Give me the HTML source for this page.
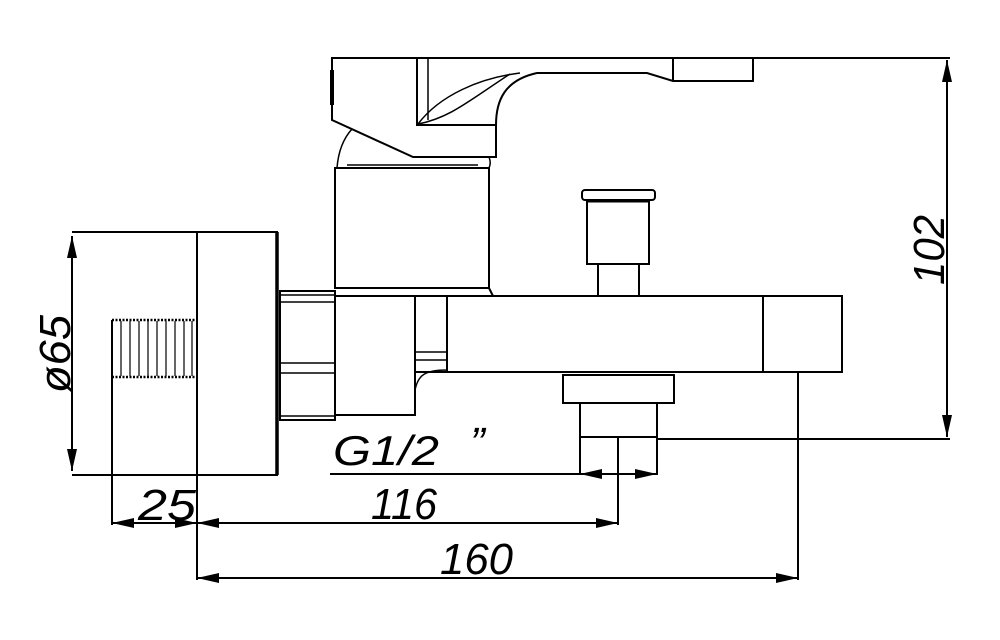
<!DOCTYPE html>
<html><head><meta charset="utf-8"><style>
html,body{margin:0;padding:0;background:#fff;}
svg{display:block;}
text{font-family:"Liberation Sans",sans-serif;font-style:italic;fill:#000;}
</style></head><body>
<svg width="1000" height="640" viewBox="0 0 1000 640" xmlns="http://www.w3.org/2000/svg">
<defs>
<marker id="a" viewBox="0 0 22 10" refX="22" refY="5" markerWidth="22" markerHeight="10" markerUnits="userSpaceOnUse" orient="auto-start-reverse">
<path d="M0,0 L22,5 L0,10 Z" fill="#000"/></marker>
</defs>
<g fill="none" stroke="#000" stroke-width="2">
<path d="M332,58 L753,58 L753,81 L673,81 L647,73 L537,73 C505,80 496,100 496,125 L496,157 L413,157 L332,120 Z"/>
<path d="M417,58 L417,125 L496,125"/>
<path d="M428,58 L428,120" stroke-width="1.5"/>
<path d="M673,58 L673,81"/>
<path d="M418,124 C440,95 480,78 520,73" stroke-width="1.5"/>
<path d="M418,124 C450,118 470,100 510,74" stroke-width="1.5"/>
<path d="M332,70 L332,105" stroke-width="4"/>
<path d="M352,129 C342,140 338,155 337,168" stroke-width="1.5"/>
<path d="M489,157 C491,162 490,166 489,168" stroke-width="1.5"/>
<rect x="335" y="168" width="154" height="120"/>
<path d="M347,165 L478,165" stroke-width="1.5"/>
<path d="M335,288 L489,288 L493,296"/>
<rect x="582" y="190" width="73" height="10" rx="3"/>
<path d="M587,201 L649,201" stroke-width="3"/>
<rect x="587" y="200" width="62" height="64"/>
<path d="M598,264 L598,296 M639,264 L639,296"/>
<path d="M415,296 L842,296 L842,372 L415,372 Z"/>
<path d="M763,296 L763,372"/>
<path d="M447,296 L447,372"/>
<path d="M415,352 L447,352 M415,360 L447,360" stroke-width="1.5"/>
<path d="M415,390 C418,375 425,370 447,370" stroke-width="1.5"/>
<path d="M335,296 L415,296"/>
<rect x="335" y="296" width="80" height="119"/>
<rect x="563" y="375" width="111" height="28"/>
<path d="M580,403 L580,475 M657,403 L657,475"/>
<path d="M580,437 L657,437"/>
<rect x="280" y="291" width="55" height="129"/>
<path d="M280,295 L335,295 M280,302 L335,302 M280,363 L335,363 M280,373 L335,373 M280,416 L335,416" stroke-width="1.5"/>
<path d="M72,232 L277,232 L277,475 L72,475"/>
<path d="M277,232 L277,475" stroke-width="3.5"/>
<path d="M197,232 L197,580"/>
<path d="M112,320 L197,320 M112,377 L197,377" stroke-width="2.5" stroke-dasharray="2 1.5"/>
<path d="M112,320 L112,525"/>
<path d="M121,321 L121,376 M130,321 L130,376 M139,321 L139,376 M148,321 L148,376 M157,321 L157,376 M166,321 L166,376 M175,321 L175,376 M184,321 L184,376 M192,321 L192,376" stroke-width="1.2"/>
<path d="M72,236 L72,471" marker-start="url(#a)" marker-end="url(#a)"/>
<path d="M753,58 L950,58"/>
<path d="M657,439 L950,439"/>
<path d="M947,60 L947,437" marker-start="url(#a)" marker-end="url(#a)"/>
<path d="M330,474 L580,474"/>
<path d="M580,474 L618,474" marker-start="url(#a)"/>
<path d="M618,474 L657,474" marker-end="url(#a)"/>
<path d="M618,437 L618,525"/>
<path d="M112,523 L197,523" marker-start="url(#a)" marker-end="url(#a)"/>
<path d="M197,523 L618,523" marker-start="url(#a)" marker-end="url(#a)"/>
<path d="M798,372 L798,580"/>
<path d="M197,578 L798,578" marker-start="url(#a)" marker-end="url(#a)"/>
</g>
<text x="333" y="465" font-size="42" textLength="106" lengthAdjust="spacingAndGlyphs">G1/2</text>
<text x="470" y="458" font-size="44">”</text>
<text x="138" y="520" font-size="44" textLength="58" lengthAdjust="spacingAndGlyphs">25</text>
<text x="371" y="519" font-size="44" textLength="66" lengthAdjust="spacingAndGlyphs">116</text>
<text x="440" y="574" font-size="44" textLength="73" lengthAdjust="spacingAndGlyphs">160</text>
<text transform="translate(944,285) rotate(-90)" font-size="44" textLength="70" lengthAdjust="spacingAndGlyphs">102</text>
<text transform="translate(70,393) rotate(-90)" font-size="44" textLength="78" lengthAdjust="spacingAndGlyphs">ø65</text>
</svg>
</body></html>
